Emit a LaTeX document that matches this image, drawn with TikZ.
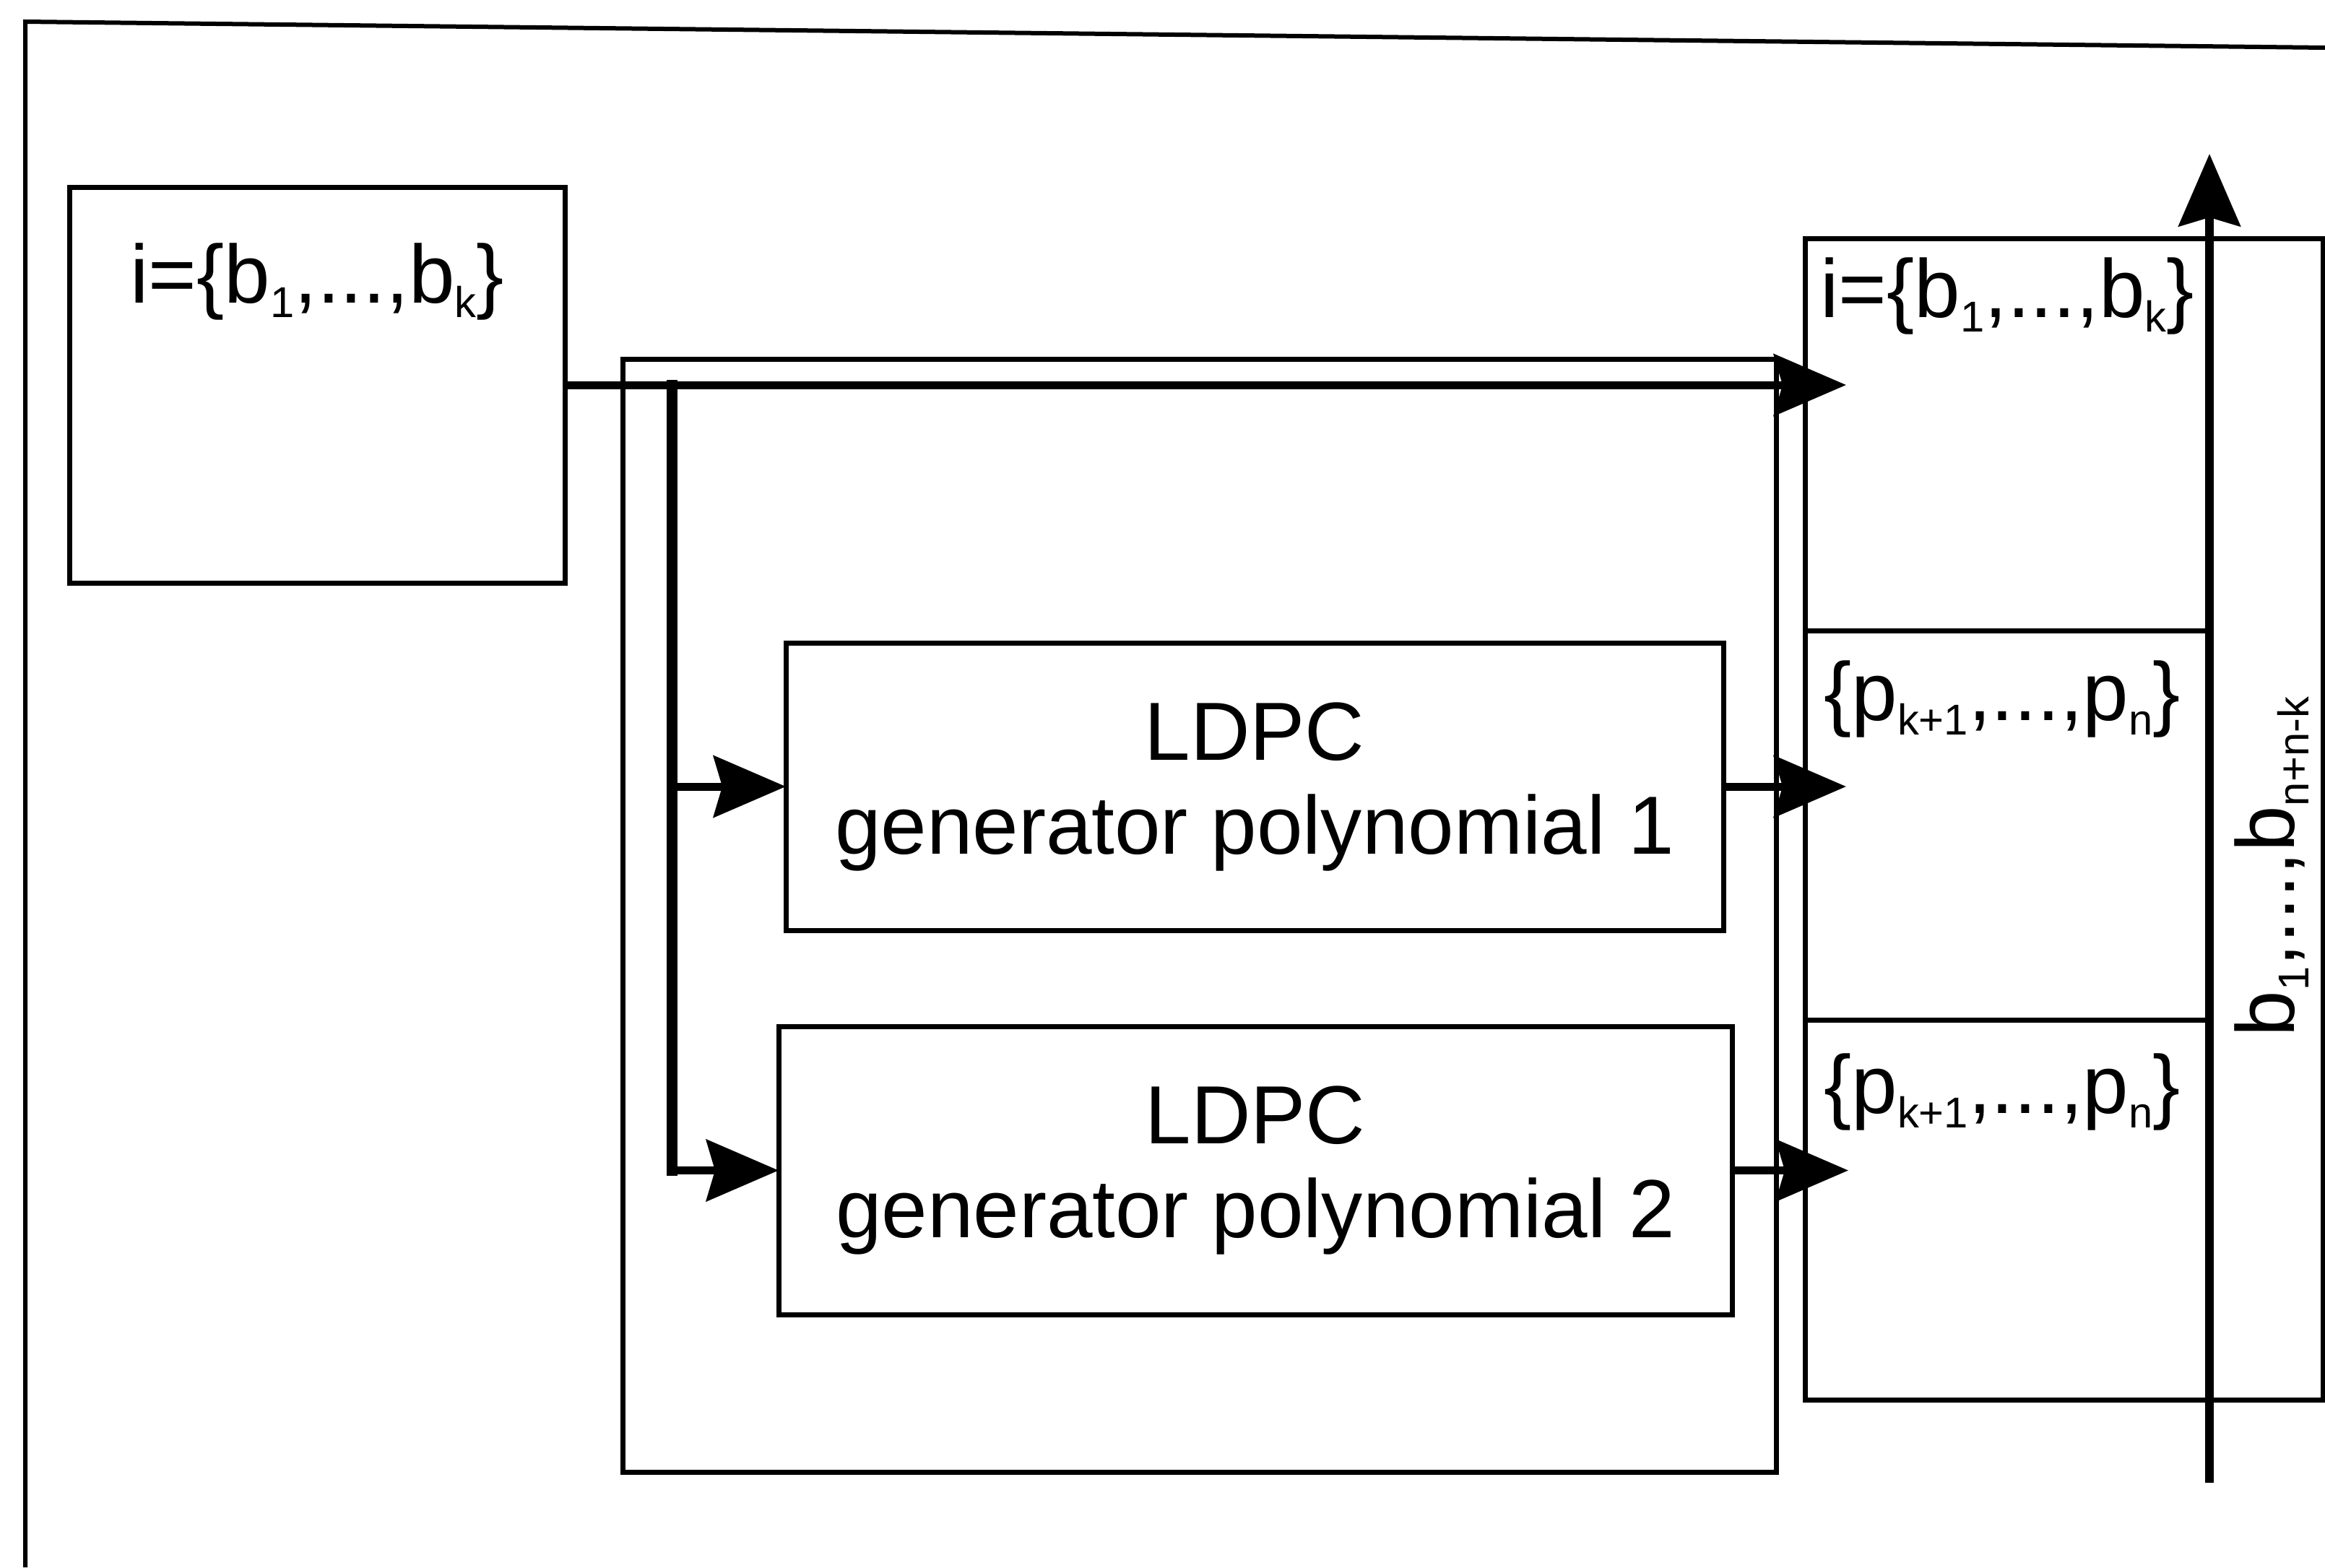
\documentclass[tikz,border=0pt]{standalone}
\usepackage{fontspec}
\setmainfont{Liberation Sans}
\usetikzlibrary{positioning, arrows.meta}
\newcommand{\lowidx}[1]{\raisebox{-0.2cm}{\fontsize{17}{17}\selectfont #1}}

\begin{document}
\begin{tikzpicture}[
    font=\fontsize{32.5}{37}\selectfont,
    box/.style={draw, line width=0.07cm, inner sep=0pt, outer sep=0pt},
    flow/.style={line width=0.11cm, -{Stealth[length=1cm, width=0.85cm, inset=0.12cm]}},
    bus/.style={line width=0.15cm, line cap=rect},
    node distance=0cm
  ]
  \useasboundingbox (0,0) rectangle (32.19,-21.70);
  % page frame (cut at right and bottom)
  \draw[line width=0.06cm] (0.35,-21.70) -- (0.35,-0.30) -- (32.19,-0.66);

  \node[box, minimum width=6.86cm, minimum height=5.48cm] (src) at (4.39,-5.33) {};
  \node (srctxt) at ([yshift=-1.31cm]src.north) {i=\{b\lowidx{1},...,b\lowidx{k}\}};

  \node[box, minimum width=15.97cm, minimum height=15.41cm] (enc) at (16.605,-12.675) {};
  \node[box, minimum width=12.98cm, minimum height=3.98cm, align=center] (ldpc1) at (17.37,-10.89) {LDPC\\generator polynomial 1};
  \node[box, minimum width=13.2cm, minimum height=3.99cm, align=center] (ldpc2) at (17.38,-16.205) {LDPC\\generator polynomial 2};

  \node[box, minimum width=7.17cm, minimum height=16.08cm] (col) at (28.575,-11.34) {};
  \node[box, minimum width=5.6cm, minimum height=5.43cm] (sec1) at (27.79,-6.015) {};
  \node[box, minimum width=5.6cm, minimum height=5.39cm, below=of sec1] (sec2) {};
  \node[box, minimum width=5.6cm, minimum height=5.26cm, below=of sec2] (sec3) {};
  \node (sec1txt) at ([yshift=-0.8cm]sec1.north) {i=\{b\lowidx{1},...,b\lowidx{k}\}};
  \node (sec2txt) at ([xshift=-0.07cm, yshift=-0.95cm]sec2.north) {\{p\lowidx{k+1},...,p\lowidx{n}\}};
  \node (sec3txt) at ([xshift=-0.07cm, yshift=-1.0cm]sec3.north) {\{p\lowidx{k+1},...,p\lowidx{n}\}};
  \node[rotate=90] (outlbl) at (31.45,-12.00) {b\lowidx{1},...,b\lowidx{n+n-k}};

  \coordinate (split) at ([xshift=1.48cm]src.east);
  \draw[flow] (src.east) -- ([xshift=0.57cm]src.east -| col.west);
  \draw[bus] (split) -- (split |- ldpc2.west);
  \draw[flow] (split |- ldpc1.west) -- (ldpc1.west);
  \draw[flow] (split |- ldpc2.west) -- (ldpc2.west);
  \draw[flow] (ldpc1.east) -- ([xshift=0.57cm]ldpc1.east -| col.west);
  \draw[flow] (ldpc2.east) -- ([xshift=0.6cm]ldpc2.east -| col.west);

  \coordinate (vbot) at ([yshift=-1.15cm]sec3.south east);
  \draw[flow, line width=0.12cm] (vbot) -- ([yshift=1.17cm]sec1.north east);
\end{tikzpicture}
\end{document}
